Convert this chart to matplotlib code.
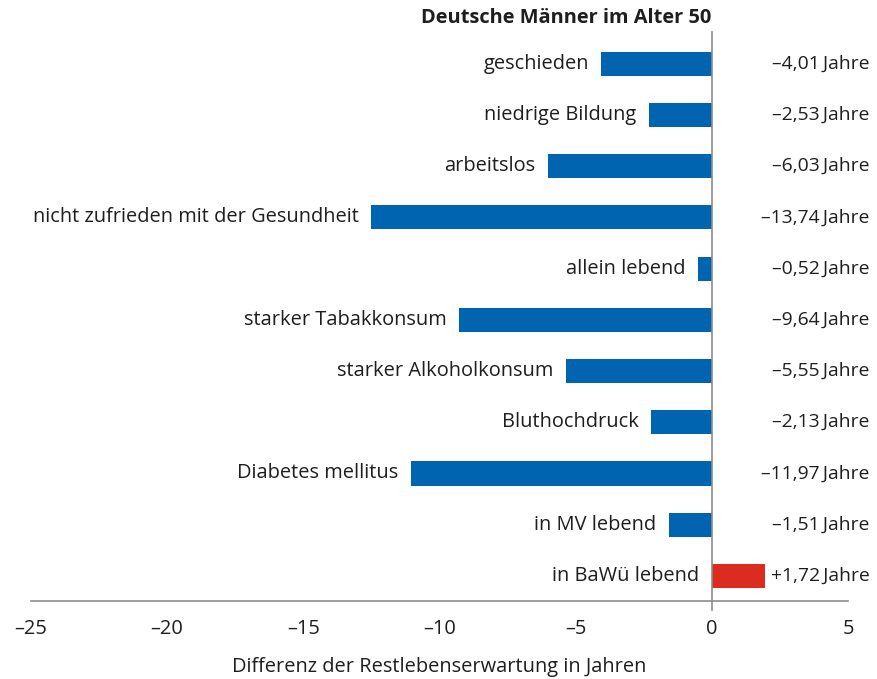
import matplotlib.pyplot as plt

# Kategorien von oben nach unten
categories = ['geschieden', 'niedrige Bildung', 'arbeitslos',
              'nicht zufrieden mit der Gesundheit', 'allein lebend',
              'starker Tabakkonsum', 'starker Alkoholkonsum', 'Bluthochdruck',
              'Diabetes mellitus', 'in MV lebend', 'in BaWü lebend']
# Balkenlängen, wie sie im Bild gezeichnet sind
bar_values = [-4.06, -2.32, -6.03, -12.51, -0.50, -9.29, -5.37, -2.22,
              -11.06, -1.57, 1.95]
value_labels = ['–4,01\u2009Jahre', '–2,53\u2009Jahre', '–6,03\u2009Jahre',
                '–13,74\u2009Jahre', '–0,52\u2009Jahre', '–9,64\u2009Jahre',
                '–5,55\u2009Jahre', '–2,13\u2009Jahre', '–11,97\u2009Jahre',
                '–1,51\u2009Jahre', '+1,72\u2009Jahre']
xticks = [-25, -20, -15, -10, -5, 0, 5]
xtick_labels = ['–25', '–20', '–15', '–10', '–5', '0', '5']

blue = '#0064b0'
red = '#dc2b1f'
text_color = '#1e1e1e'
line_color = '#8c8c8c'
fs = 14.4

plt.rcParams['font.family'] = ['Open Sans', 'DejaVu Sans']

fig = plt.figure(figsize=(8.77, 6.79), dpi=100)
ax = fig.add_axes([31 / 877, 78 / 679, 817 / 877, 569 / 679])

n = len(categories)
ypos = list(range(n))
colors = [red if v > 0 else blue for v in bar_values]
ax.barh(ypos, bar_values, height=0.47, color=colors, zorder=2)

ax.set_xlim(-25, 5)
ax.set_ylim(n - 1 + 0.49, -0.62)

for y, v, cat, lab in zip(ypos, bar_values, categories, value_labels):
    x_start = min(v, 0)
    ax.annotate(cat, (x_start, y), xytext=(-9, 0), textcoords='offset points',
                ha='right', va='center', fontsize=fs, color=text_color)
    ax.text(1.0265, y, lab, transform=ax.get_yaxis_transform(),
            ha='right', va='center', fontsize=13.9, color=text_color)

# Null-Linie, ragt etwas unter die Achse
ax.axvline(0, ymin=-0.016, ymax=1, color=line_color, linewidth=1.2,
           clip_on=False, zorder=3)

for side in ['top', 'right', 'left']:
    ax.spines[side].set_visible(False)
ax.spines['bottom'].set_color(line_color)
ax.spines['bottom'].set_linewidth(1.2)

ax.set_yticks([])
ax.set_xticks(xticks)
ax.set_xticklabels(xtick_labels, fontsize=fs, color=text_color)
ax.tick_params(axis='x', length=0, pad=13)
ax.set_xlabel('Differenz der Restlebenserwartung in Jahren', fontsize=fs,
              color=text_color, labelpad=13)

ax.text(0, 1.025, 'Deutsche Männer im Alter 50', transform=ax.get_xaxis_transform(),
        ha='right', va='center', fontsize=fs, fontweight='bold', color=text_color)

plt.savefig('out.png', dpi=100)
plt.close()
